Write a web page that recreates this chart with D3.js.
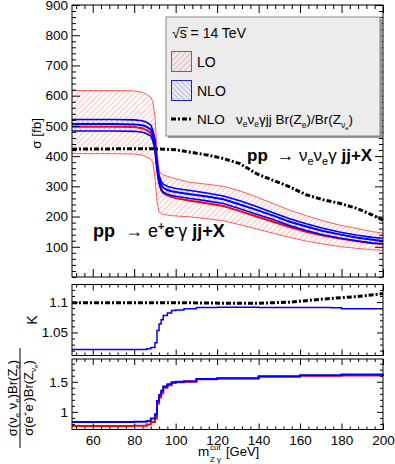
<!DOCTYPE html>
<html>
<head>
<meta charset="utf-8">
<script src="https://cdn.jsdelivr.net/npm/d3@7"></script>
<style>
body { margin: 0; background: #fff; }
text { font-family: "Liberation Sans", Arial, sans-serif; }
</style>
</head>
<body>
<div id="chart"></div>
<script>
const w = 395;
const h = 464;

// m_Zgamma cut values (GeV) for the cross-section curves
const mcut = [50, 60, 70, 80, 84, 86, 88, 89, 90, 91, 92, 93, 94, 96, 98, 100, 107, 115, 123, 131, 139, 147, 155, 163, 171, 179, 187, 195, 200];
const loCentral = [497, 497, 497, 496, 492, 486, 477, 462, 432, 362, 310, 288, 278, 270, 265, 261, 252, 244, 235, 218, 200, 183, 165, 150, 137, 127, 119, 112, 110];
const loUp = [617, 617, 617, 616, 611, 604, 595, 580, 530, 420, 352, 342, 338, 333, 329, 325, 313, 307, 300, 285, 265, 243, 221, 203, 186, 172, 161, 150, 145];
const loDown = [408, 408, 408, 407, 403, 397, 390, 380, 330, 250, 215, 210, 207, 205, 203, 202, 199, 193, 186, 173, 159, 145, 131, 119, 109, 101, 95, 90, 88];
const nloCentral = [506, 506, 506, 505, 502, 497, 488, 470, 440, 370, 325, 305, 295, 288, 284, 281, 274, 266, 257, 240, 222, 203, 183, 167, 152, 141, 131, 123, 119];
const nloUp = [521, 521, 521, 520, 517, 512, 503, 486, 456, 385, 337, 317, 307, 300, 296, 293, 286, 278, 268, 252, 233, 213, 193, 176, 161, 149, 139, 131, 128];
const nloDown = [483, 483, 483, 482, 479, 474, 466, 450, 420, 352, 309, 290, 281, 274, 270, 267, 260, 252, 243, 226, 208, 190, 170, 154, 140, 129, 120, 112, 109];

// neutrino channel rescaled by branching ratios
const nuM = [50, 70, 90, 100, 107, 115, 123, 131, 139, 147, 155, 163, 171, 179, 187, 195, 200];
const nuNlo = [423, 424, 424, 421, 413, 404, 392, 375, 342, 320, 298, 272, 256, 244, 228, 205, 188];

// K factor panel
const kM = [50, 80, 86, 88, 90, 91, 92, 93, 94, 96, 98, 100, 104, 110, 120, 140, 160, 175, 180, 200];
const kEE = [1.022, 1.022, 1.023, 1.025, 1.033, 1.053, 1.064, 1.071, 1.078, 1.082, 1.086, 1.087, 1.089, 1.091, 1.0915, 1.091, 1.091, 1.0905, 1.089, 1.089];
const kNuM = [50, 100, 130, 140, 155, 171, 187, 200];
const kNu = [1.099, 1.099, 1.098, 1.098, 1.100, 1.105, 1.109, 1.114];

// ratio panel
const rM = [50, 80, 86, 88, 90, 91, 92, 93, 94, 96, 98, 100, 104, 110, 120, 140, 160, 180, 200];
const rNlo = [0.833, 0.835, 0.85, 0.89, 0.96, 1.18, 1.28, 1.35, 1.42, 1.46, 1.49, 1.50, 1.51, 1.545, 1.56, 1.59, 1.61, 1.62, 1.63];
const rLo = [0.767, 0.77, 0.79, 0.83, 0.89, 1.14, 1.24, 1.31, 1.40, 1.44, 1.48, 1.49, 1.50, 1.54, 1.555, 1.585, 1.60, 1.605, 1.60];

const xTicks = [60, 80, 100, 120, 140, 160, 180, 200];
const sigmaTicks = [100, 200, 300, 400, 500, 600, 700, 800, 900];
const kTicks = [1.05, 1.1];
const rTicks = [1, 1.5];

let svg = d3.select('#chart')
	.append('svg')
		.attr('width', w)
		.attr('height', h);

let defs = svg.append('defs');
function hatch(id, color, spacing, dir) {
	let p = defs.append('pattern')
		.attr('id', id)
		.attr('patternUnits', 'userSpaceOnUse')
		.attr('width', spacing)
		.attr('height', spacing)
		.attr('patternTransform', 'rotate(' + dir + ')');
	p.append('line')
		.attr('x1', 0).attr('y1', 0)
		.attr('x2', 0).attr('y2', spacing)
		.attr('stroke', color)
		.attr('stroke-width', 0.9);
}
hatch('hatchRed', '#ff7070', 4, 45);
hatch('hatchBlue', '#7070ff', 3.5, -45);

let xScale = d3.scaleLinear().domain([50, 200]).range([72, 383]);
let yTop = d3.scaleLinear().domain([0, 900]).range([277, 5]);
let yK = d3.scaleLinear().domain([1.012, 1.129]).range([355.5, 284.5]);
let yR = d3.scaleLinear().domain([0.707, 1.878]).range([429.5, 359]);

// ROOT-like frame with ticks on all four sides pointing inwards
function frame(yScale, yMajor, yMinorStep, showX, major, minor) {
	let [y0, y1] = yScale.range();
	let g = svg.append('g');
	g.append('rect')
		.attr('x', 72).attr('y', y1)
		.attr('width', 311).attr('height', y0 - y1)
		.attr('fill', 'none').attr('stroke', '#000').attr('stroke-width', 1);

	let xMinor = d3.range(52, 200.1, 4).filter((v) => !xTicks.includes(v));
	let yd = yScale.domain();
	let yMinor = d3.range(Math.ceil(yd[0] / yMinorStep) * yMinorStep, yd[1], yMinorStep)
		.filter((v) => !yMajor.some((t) => Math.abs(t - v) < 1e-6));

	[[xTicks, major], [xMinor, minor]].forEach(([ticks, len]) => {
		g.append('g').attr('transform', 'translate(0,' + y0 + ')')
			.call(d3.axisBottom(xScale).tickValues(ticks).tickSizeInner(-len).tickSizeOuter(0).tickFormat(''));
		g.append('g').attr('transform', 'translate(0,' + y1 + ')')
			.call(d3.axisTop(xScale).tickValues(ticks).tickSizeInner(-len).tickSizeOuter(0).tickFormat(''));
	});
	[[yMajor, major], [yMinor, minor]].forEach(([ticks, len]) => {
		g.append('g').attr('transform', 'translate(72,0)')
			.call(d3.axisLeft(yScale).tickValues(ticks).tickSizeInner(-len).tickSizeOuter(0).tickFormat(''));
		g.append('g').attr('transform', 'translate(383,0)')
			.call(d3.axisRight(yScale).tickValues(ticks).tickSizeInner(-len).tickSizeOuter(0).tickFormat(''));
	});
	g.selectAll('.domain').remove();

	g.append('g').attr('transform', 'translate(72,0)')
		.call(d3.axisLeft(yScale).tickValues(yMajor).tickSize(0).tickPadding(4).tickFormat(d3.format('')))
		.call((a) => a.select('.domain').remove())
		.selectAll('text').attr('font-size', 13.5).attr('fill', '#000');

	if (showX) {
		g.append('g').attr('transform', 'translate(0,' + y0 + ')')
			.call(d3.axisBottom(xScale).tickValues(xTicks).tickSize(0).tickPadding(6).tickFormat(d3.format('')))
			.call((a) => a.select('.domain').remove())
			.selectAll('text').attr('font-size', 13.5).attr('fill', '#000');
	}
	return g;
}

// ---------- top panel ----------
const rows = mcut.map((m, i) => ({
	m: m, lo: loCentral[i], loU: loUp[i], loD: loDown[i],
	nlo: nloCentral[i], nloU: nloUp[i], nloD: nloDown[i]
}));

function band(key1, key2, fill, stroke, sw) {
	svg.append('path')
		.datum(rows)
		.attr('d', d3.area().x((d) => xScale(d.m)).y0((d) => yTop(d[key1])).y1((d) => yTop(d[key2])))
		.attr('fill', fill);
	[key1, key2].forEach((k) => {
		svg.append('path')
			.datum(rows)
			.attr('d', d3.line().x((d) => xScale(d.m)).y((d) => yTop(d[k])))
			.attr('fill', 'none').attr('stroke', stroke).attr('stroke-width', sw);
	});
}
function line(xs, ys, yScale, color, width, dash, curve) {
	svg.append('path')
		.datum(xs.map((m, i) => [m, ys[i]]))
		.attr('d', d3.line().curve(curve || d3.curveLinear).x((d) => xScale(d[0])).y((d) => yScale(d[1])))
		.attr('fill', 'none')
		.attr('stroke', color)
		.attr('stroke-width', width)
		.attr('stroke-dasharray', dash || null);
}

band('loD', 'loU', 'url(#hatchRed)', '#ff5a5a', 1);
line(mcut, loCentral, yTop, '#ff0000', 2);
band('nloD', 'nloU', 'url(#hatchBlue)', '#0000ff', 1.6);
line(mcut, nloCentral, yTop, '#0000ff', 2);
line(nuM, nuNlo, yTop, '#000', 3, '5,2,2,2');

frame(yTop, sigmaTicks, 20, false, 8, 4);

svg.append('text')
	.attr('transform', 'translate(41,118) rotate(-90)')
	.attr('text-anchor', 'end')
	.attr('font-size', 13.5)
	.text('σ [fb]');

// annotations
let ann1 = svg.append('text').attr('x', 247).attr('y', 161).attr('font-size', 17).attr('font-weight', 'bold');
ann1.append('tspan').text('pp\u00a0');
ann1.append('tspan').attr('font-weight', 'normal').text('\u00a0→ ν');
ann1.append('tspan').attr('font-weight', 'normal').attr('font-size', 11).attr('dy', 4).text('e');
ann1.append('tspan').attr('font-weight', 'normal').attr('dy', -4).text('ν');
ann1.append('tspan').attr('font-weight', 'normal').attr('font-size', 11).attr('dy', 4).text('e');
ann1.append('tspan').attr('font-weight', 'normal').attr('dy', -4).text('γ ');
ann1.append('tspan').text('jj+X');

let ann2 = svg.append('text').attr('x', 93).attr('y', 237).attr('font-size', 18).attr('font-weight', 'bold');
ann2.append('tspan').text('pp\u00a0');
ann2.append('tspan').attr('font-weight', 'normal').text('\u00a0→ e');
ann2.append('tspan').attr('font-size', 11).attr('dy', -7).text('+');
ann2.append('tspan').attr('dy', 7).text('e');
ann2.append('tspan').attr('font-size', 11).attr('dy', -7).text('-');
ann2.append('tspan').attr('font-weight', 'normal').attr('dy', 7).text('γ ');
ann2.append('tspan').text('jj+X');

// legend
let leg = svg.append('g');
leg.append('rect').attr('x', 168).attr('y', 19).attr('width', 214).attr('height', 119).attr('fill', '#999');
leg.append('rect').attr('x', 166).attr('y', 17).attr('width', 214).attr('height', 119)
	.attr('fill', '#ececec').attr('stroke', '#888').attr('stroke-width', 1);
let t0 = leg.append('text').attr('x', 172).attr('y', 38).attr('font-size', 14);
t0.append('tspan').text('√');
t0.append('tspan').text('s');
t0.append('tspan').text(' = 14 TeV');
leg.append('line').attr('x1', 180).attr('x2', 188).attr('y1', 27.5).attr('y2', 27.5).attr('stroke', '#000').attr('stroke-width', 0.8);

leg.append('rect').attr('x', 171.5).attr('y', 51.5).attr('width', 20).attr('height', 20)
	.attr('fill', 'url(#hatchRed)').attr('stroke', '#d04040');
leg.append('text').attr('x', 197).attr('y', 67).attr('font-size', 14).text('LO');
leg.append('rect').attr('x', 171.5).attr('y', 80.5).attr('width', 20).attr('height', 20)
	.attr('fill', 'url(#hatchBlue)').attr('stroke', '#2020c0');
leg.append('text').attr('x', 197).attr('y', 96).attr('font-size', 14).text('NLO');
leg.append('line').attr('x1', 171).attr('x2', 193).attr('y1', 119).attr('y2', 119)
	.attr('stroke', '#000').attr('stroke-width', 3).attr('stroke-dasharray', '5,2,2,2');
let t3 = leg.append('text').attr('x', 197).attr('y', 124).attr('font-size', 13.5);
t3.append('tspan').text('NLO\u00a0\u00a0\u00a0ν');
t3.append('tspan').attr('font-size', 8.5).attr('dy', 3).text('e');
t3.append('tspan').attr('dy', -3).text('ν');
t3.append('tspan').attr('font-size', 8.5).attr('dy', 3).text('e');
t3.append('tspan').attr('dy', -3).text('γjj Br(Z');
t3.append('tspan').attr('font-size', 8.5).attr('dy', 4).text('e');
t3.append('tspan').attr('dy', -4).text(')/Br(Z');
t3.append('tspan').attr('font-size', 8.5).attr('dy', 4).text('ν');
t3.append('tspan').attr('font-size', 6).attr('dy', 2).text('e');
t3.append('tspan').attr('dy', -6).text(')');

// ---------- K panel ----------
line(kM, kEE, yK, '#0000ff', 1.5, null, d3.curveStepAfter);
line(kNuM, kNu, yK, '#000', 3, '5,2,2,2');
frame(yK, kTicks, 0.01, false, 6, 3);
svg.append('text')
	.attr('transform', 'translate(37,320) rotate(-90)')
	.attr('text-anchor', 'middle')
	.attr('font-size', 14)
	.text('K');

// ---------- ratio panel ----------
line(rM, rLo, yR, '#ff0000', 2, null, d3.curveStepAfter);
line(rM, rNlo, yR, '#0000ff', 2, null, d3.curveStepAfter);
frame(yR, rTicks, 0.1, true, 6, 3);

let num = svg.append('text')
	.attr('transform', 'translate(17,398) rotate(-90)')
	.attr('text-anchor', 'middle')
	.attr('font-size', 13);
num.append('tspan').text('σ(ν');
num.append('tspan').attr('font-size', 8).attr('dy', 3).text('e');
num.append('tspan').attr('dy', -3).text(' ν');
num.append('tspan').attr('font-size', 8).attr('dy', 3).text('e');
num.append('tspan').attr('dy', -3).text(')Br(Z');
num.append('tspan').attr('font-size', 8).attr('dy', 3).text('e');
num.append('tspan').attr('dy', -3).text(')');
svg.append('line').attr('x1', 20).attr('x2', 20).attr('y1', 348).attr('y2', 448)
	.attr('stroke', '#000').attr('stroke-width', 1);
let den = svg.append('text')
	.attr('transform', 'translate(33,398) rotate(-90)')
	.attr('text-anchor', 'middle')
	.attr('font-size', 13);
den.append('tspan').text('σ(e');
den.append('tspan').attr('font-size', 8).attr('dy', -5).text('+');
den.append('tspan').attr('dy', 5).text('e');
den.append('tspan').attr('font-size', 8).attr('dy', -5).text('-');
den.append('tspan').attr('dy', 5).text(')Br(Z');
den.append('tspan').attr('font-size', 8).attr('dy', 3).text('ν');
den.append('tspan').attr('font-size', 6).attr('dy', 2).text('e');
den.append('tspan').attr('dy', -5).text(')');

// x axis title: m with stacked "cut" / "Z γ"
svg.append('text').attr('x', 198).attr('y', 456).attr('font-size', 13.5).text('m');
svg.append('text').attr('x', 210).attr('y', 450).attr('font-size', 8).text('cut');
svg.append('text').attr('x', 210).attr('y', 462).attr('font-size', 8).text('Z γ');
svg.append('text').attr('x', 226).attr('y', 456).attr('font-size', 13).text('[GeV]');
</script>
</body>
</html>
